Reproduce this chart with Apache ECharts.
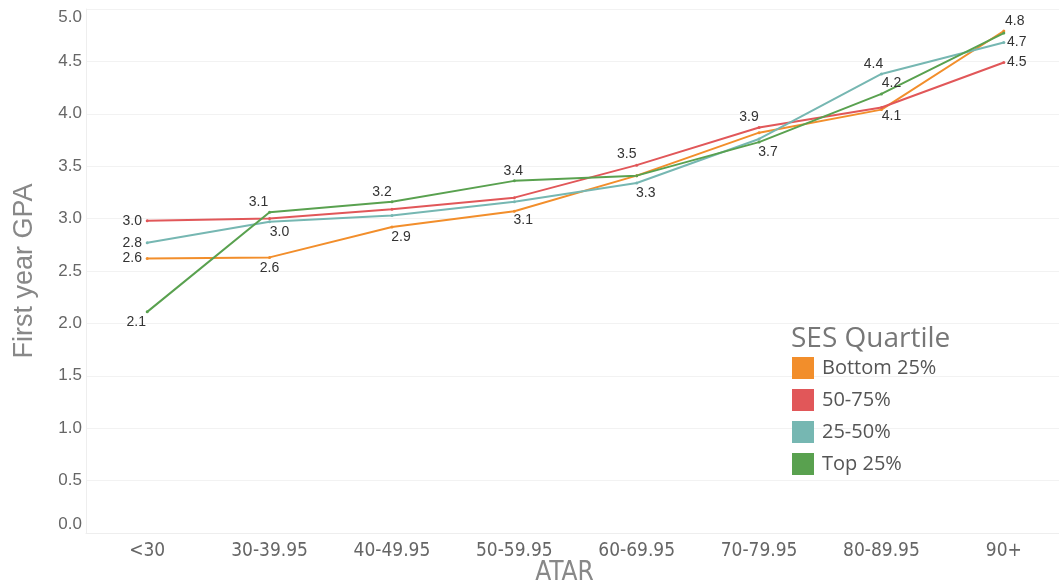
<!DOCTYPE html>
<html>
<head>
<meta charset="utf-8">
<script src="https://cdn.jsdelivr.net/npm/echarts@6/dist/echarts.min.js"></script>
<style>
html,body{margin:0;padding:0;background:#fff;}
#chart{width:1059px;height:587px;}
</style>
</head>
<body>
<div id="chart"></div>
<script>
// ---- data ----
var categories = ['<30', '30-39.95', '40-49.95', '50-59.95', '60-69.95', '70-79.95', '80-89.95', '90+'];
var seriesNames = ['Bottom 25%', '50-75%', '25-50%', 'Top 25%'];
var bottom25 = [2.62, 2.63, 2.92, 3.07, 3.41, 3.82, 4.04, 4.79];
var q50to75  = [2.98, 3.00, 3.09, 3.20, 3.51, 3.87, 4.06, 4.49];
var q25to50  = [2.77, 2.97, 3.03, 3.16, 3.34, 3.76, 4.38, 4.68];
var top25    = [2.11, 3.06, 3.16, 3.36, 3.41, 3.73, 4.19, 4.77];
var yTicks = [0, 0.5, 1, 1.5, 2, 2.5, 3, 3.5, 4, 4.5, 5];
// which points carry a value label (category indexes)
var labelled = {
  'Bottom 25%': [0, 1, 2, 3, 7],
  '50-75%': [0, 4, 5, 6, 7],
  '25-50%': [0, 1, 4, 6, 7],
  'Top 25%': [0, 1, 2, 3, 5, 6]
};

// ---- styling ----
var colors = {'Bottom 25%': '#F28E2B', '50-75%': '#E15759', '25-50%': '#76B7B2', 'Top 25%': '#59A14F'};
var labelOffsets = {
  'Bottom 25%': {0: [-15, 0], 1: [0, 11], 2: [9, 10], 3: [9, 9], 7: [11, -10]},
  '50-75%': {0: [-15, 0], 4: [-10, -11], 5: [-10, -10], 6: [10, 9], 7: [13, 0]},
  '25-50%': {0: [-15, 0], 1: [10, 10], 4: [9, 10], 6: [-8, -10], 7: [13, 0]},
  'Top 25%': {0: [-11, 10], 1: [-11, -10], 2: [-10, -10], 3: [-1, -10], 5: [9, 10], 6: [10, -11]}
};
var valuesByName = {'Bottom 25%': bottom25, '50-75%': q50to75, '25-50%': q25to50, 'Top 25%': top25};
var sansFont = 'Arial, "Liberation Sans", sans-serif';
var narrowFont = '"Liberation Sans Narrow", "DejaVu Sans Condensed", Arial, sans-serif';
var legendFont = '"Open Sans", Arial, sans-serif';

function buildSeries(name) {
  var vals = valuesByName[name];
  var data = vals.map(function (v, i) {
    var item = {value: v};
    if (labelled[name].indexOf(i) >= 0) {
      item.label = {
        show: true,
        position: 'inside',
        offset: labelOffsets[name][i],
        formatter: function (p) { return (Math.round(p.value * 10) / 10).toFixed(1); },
        color: '#333',
        fontSize: 14,
        fontFamily: sansFont
      };
    }
    return item;
  });
  return {
    name: name,
    type: 'line',
    data: data,
    symbol: 'circle',
    symbolSize: 3,
    showSymbol: true,
    lineStyle: {width: 2, color: colors[name]},
    itemStyle: {color: colors[name]},
    label: {show: false},
    z: 3,
    animation: false
  };
}

var chart = echarts.init(document.getElementById('chart'), null, {renderer: 'canvas'});
chart.setOption({
  backgroundColor: '#fff',
  animation: false,
  color: seriesNames.map(function (n) { return colors[n]; }),
  title: {
    text: 'SES Quartile',
    left: 786,
    top: 320,
    textStyle: {fontSize: 28, fontWeight: 'normal', color: '#777', fontFamily: legendFont}
  },
  legend: {
    orient: 'vertical',
    left: 792,
    top: 357,
    padding: 0,
    icon: 'rect',
    itemWidth: 22,
    itemHeight: 22,
    itemGap: 10,
    data: seriesNames,
    textStyle: {fontSize: 20, color: '#555', fontFamily: legendFont, padding: [0, 0, 0, 3]},
    selectedMode: false
  },
  grid: {left: 86, top: 9, width: 979, height: 524, containLabel: false, outerBoundsMode: 'none'},
  xAxis: {
    type: 'category',
    data: categories,
    boundaryGap: true,
    name: 'ATAR',
    nameLocation: 'middle',
    nameGap: 27,
    nameMoveOverlap: false,
    nameTextStyle: {fontSize: 26, color: '#888', padding: [0, 22, 0, 0], fontFamily: narrowFont},
    axisLine: {show: true, lineStyle: {color: '#eeeeee'}},
    axisTick: {show: false},
    axisLabel: {margin: 9, fontSize: 19, color: '#666', fontFamily: narrowFont},
    splitLine: {show: false}
  },
  yAxis: {
    type: 'value',
    min: yTicks[0],
    max: yTicks[yTicks.length - 1],
    interval: yTicks[1] - yTicks[0],
    name: 'First year GPA',
    nameLocation: 'middle',
    nameGap: 48,
    nameMoveOverlap: false,
    nameTextStyle: {fontSize: 27, color: '#888', fontFamily: sansFont},
    axisLine: {show: true, lineStyle: {color: '#eeeeee'}},
    axisTick: {show: false},
    axisLabel: {
      margin: 4,
      fontSize: 17,
      color: '#666',
      fontFamily: sansFont,
      formatter: function (v) { return v.toFixed(1); },
      verticalAlignMaxLabel: 'top',
      verticalAlignMinLabel: 'bottom'
    },
    splitLine: {show: true, lineStyle: {color: '#f2f2f2', width: 1}}
  },
  series: seriesNames.map(buildSeries)
});
</script>
</body>
</html>
